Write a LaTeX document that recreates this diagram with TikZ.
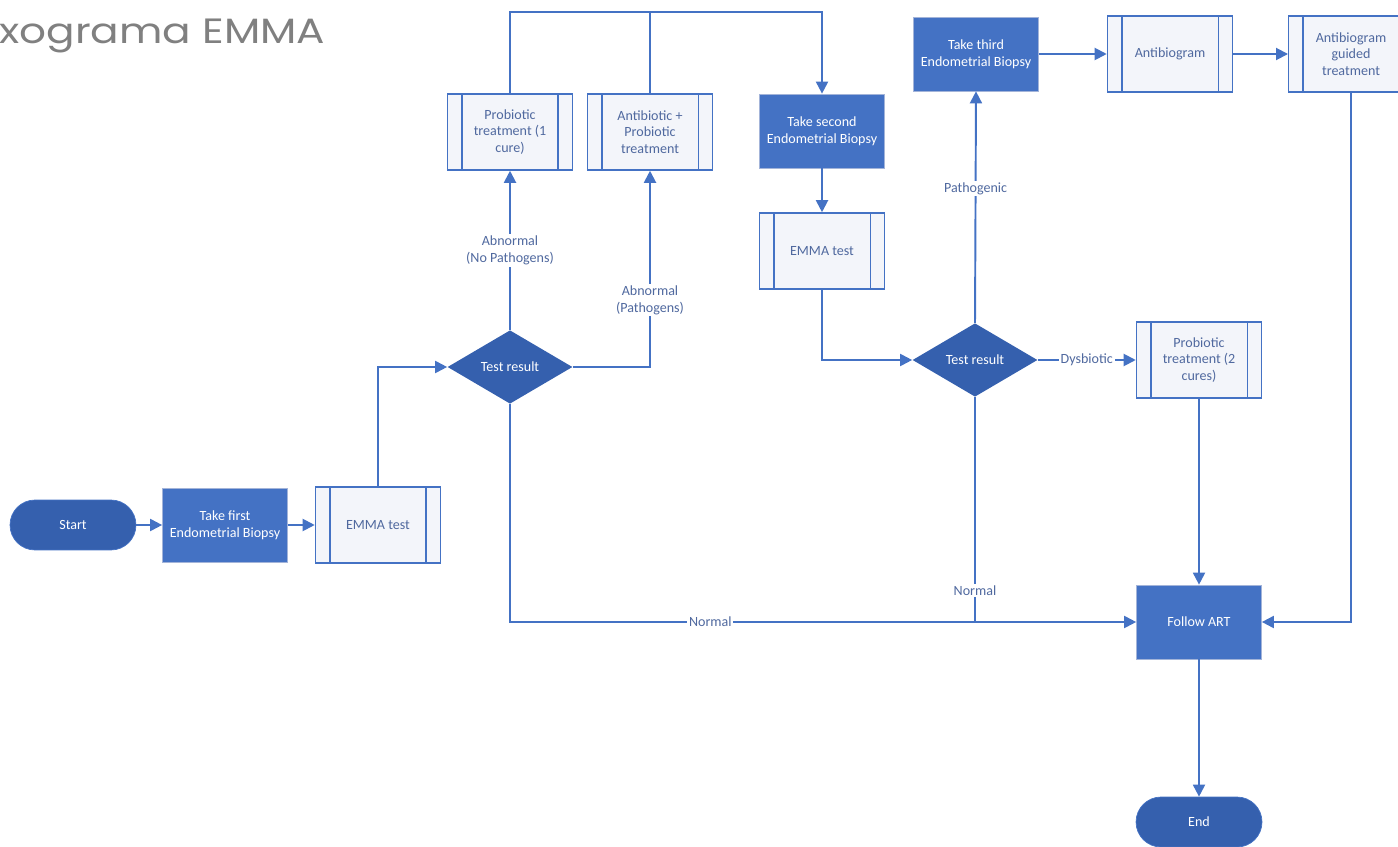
\documentclass[tikz,border=0pt]{standalone}
\usepackage{fontspec}
\setmainfont{Carlito}
\newfontfamily\titlefont{Poppins}
\usepackage{tikz}
\usetikzlibrary{calc}
\usetikzlibrary{positioning}
\usetikzlibrary{shapes}
\usetikzlibrary{arrows.meta}

\definecolor{flowblue}{HTML}{4472C4}
\definecolor{darkflow}{HTML}{3560AE}
\definecolor{flowedge}{HTML}{A3B4D9}
\definecolor{subfill}{HTML}{F3F5FA}
\definecolor{subtext}{HTML}{50699F}
\definecolor{titlegray}{HTML}{808080}

\tikzset{
	terminal/.style={rectangle, rounded corners=0.5cm, draw=flowblue, fill=darkflow, text=white, minimum width=2.52cm, minimum height=1cm, font=\fontsize{8}{9.5}\selectfont},
	process/.style={rectangle, draw=flowedge, fill=flowblue, text=white, minimum width=2.5cm, minimum height=1.48cm, align=center, font=\fontsize{8}{9.5}\selectfont},
	subproc/.style={rectangle, draw=flowblue, line width=0.9pt, fill=subfill, text=subtext, minimum width=2.5cm, minimum height=1.52cm, align=center, font=\fontsize{8}{9.5}\selectfont},
	decision/.style={diamond, fill=darkflow, text=white, minimum width=2.5cm, minimum height=1.47cm, inner sep=0pt, aspect=1.7, font=\fontsize{8}{9.5}\selectfont},
	line/.style={draw=flowblue, line width=1.1pt},
	link/.style={line, -{Triangle[length=0.24cm, width=0.24cm]}},
	lbl/.style={fill=white, text=subtext, inner sep=1pt, align=center, font=\fontsize{8}{9.5}\selectfont}
}

\begin{document}
\begin{tikzpicture}[x=0.02cm, y=-0.02cm]
	\useasboundingbox (0,0) rectangle (1398,847);
	
	\node[anchor=west, text=titlegray, font=\titlefont\fontsize{20}{22}\selectfont, inner sep=0pt, xscale=1.2] (title) at (-1,36) {xograma EMMA};
	
	% first round
	\node[terminal] (start) at (73,525) {Start};
	\node[process] (take1) at (225,525) {Take first\\Endometrial Biopsy};
	\node[subproc] (emma1) at (378,525) {EMMA test};
	\node[decision] (dia1) at (510,367) {Test result};
	\node[subproc] (prob1) at (510,132) {Probiotic\\treatment (1\\cure)};
	\node[subproc] (anti) at (650,132) {Antibiotic +\\Probiotic\\treatment};
	\coordinate (topline) at (650,12);
	
	% second round
	\node[process] (take2) at (822,131) {Take second\\Endometrial Biopsy};
	\node[subproc] (emma2) at (822,251) {EMMA test};
	\node[decision] (dia2) at (975,360) {Test result};
	\node[process] (take3) at (976,54) {Take third\\Endometrial Biopsy};
	\node[subproc] (antibio) at (1170,54) {Antibiogram};
	\node[subproc] (guided) at (1351,54) {Antibiogram\\guided\\treatment};
	\node[subproc] (prob2) at (1199,360) {Probiotic\\treatment (2\\cures)};
	
	% end
	\node[process] (art) at (1199,622) {Follow ART};
	\node[terminal] (end) at (1199,822) {End};
	
	% side bars of the subprocess boxes
	\foreach \n in {emma1,prob1,anti,emma2,antibio,guided,prob2} {
		\draw[flowblue, line width=0.9pt] ($(\n.north west)+(15,0)$) -- ($(\n.south west)+(15,0)$);
		\draw[flowblue, line width=0.9pt] ($(\n.north east)+(-15,0)$) -- ($(\n.south east)+(-15,0)$);
	}
	
	\draw[link] (start) -- (take1);
	\draw[link] (take1) -- (emma1);
	\draw[link] (emma1.north) |- (dia1.west);
	\draw[link] (dia1.north) -- node[lbl] {Abnormal\\(No Pathogens)} (prob1.south);
	\draw[link] (dia1.east) -| node[lbl, pos=0.67] {Abnormal\\(Pathogens)} (anti.south);
	\draw[line] (anti.north) -- (topline);
	\draw[link] (prob1.north) |- (topline) -| (take2.north);
	\draw[link] (take2) -- (emma2);
	\draw[link] (emma2.south) |- (dia2.west);
	\draw[link] (dia2.north) -- node[lbl, pos=0.58] {Pathogenic} (take3.south);
	\draw[link] (take3) -- (antibio);
	\draw[link] (antibio) -- (guided.west -| 1288,0);
	\draw[link] (dia2.east) -- node[lbl] {Dysbiotic} (prob2.west);
	\draw[link] (prob2.south) -- (art.north);
	\draw[link] (dia1.south) |- node[lbl, pos=0.66] {Normal} (art.west);
	\draw[line] (dia2.south) -- node[lbl, pos=0.86] {Normal} (dia2.south |- art.west);
	\draw[link] (guided.south) |- (art.east);
	\draw[link] (art) -- (end);
\end{tikzpicture}
\end{document}
